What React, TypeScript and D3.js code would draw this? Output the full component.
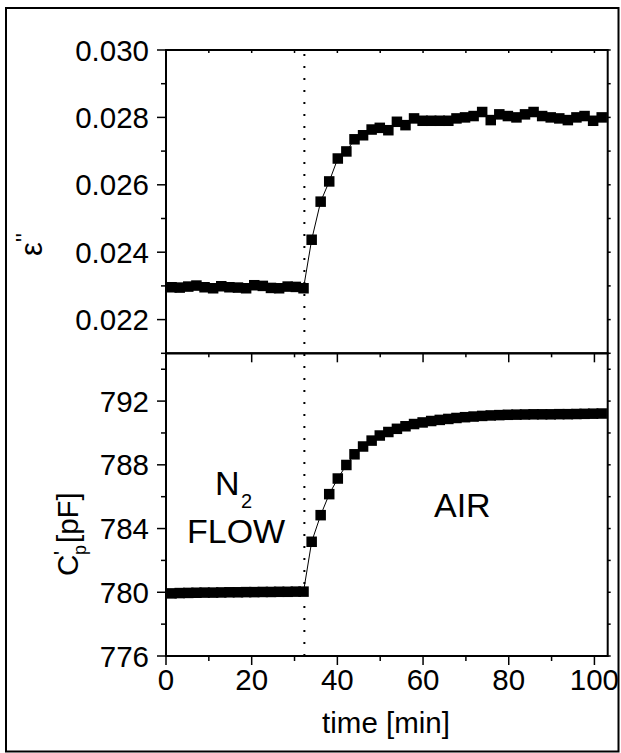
import React from "react";
import * as d3 from "d3";

const times = [1.3, 3.2, 5.2, 7.1, 9.0, 11.0, 12.9, 14.8, 16.8, 18.7, 20.6, 22.6, 24.5, 26.4, 28.4, 30.3, 32.1,
  34.0, 36.1, 38.1, 40.1, 42.1, 44.0, 46.0, 48.0, 49.9, 51.9, 53.9, 55.9, 57.9, 59.9, 61.9, 63.9, 65.9, 67.8,
  69.8, 71.8, 73.8, 75.8, 77.8, 79.8, 81.8, 83.8, 85.8, 87.8, 89.8, 91.8, 93.8, 95.8, 97.7, 99.7, 101.7];

const epsValues = [0.02296, 0.02295, 0.02298, 0.02301, 0.02296, 0.02293, 0.02299, 0.02296, 0.02295, 0.02293,
  0.02302, 0.02300, 0.02294, 0.02293, 0.02298, 0.02297, 0.02293,
  0.02437, 0.02550, 0.02610, 0.02678, 0.02699, 0.02735, 0.02747, 0.02764, 0.02769, 0.02762, 0.02787, 0.02777,
  0.02797, 0.02790, 0.02790, 0.02790, 0.02790, 0.02797, 0.02800, 0.02804, 0.02816, 0.02792, 0.02809, 0.02804,
  0.02800, 0.02809, 0.02816, 0.02804, 0.02800, 0.02797, 0.02792, 0.02800, 0.02804, 0.02790, 0.02800];

const capValues = [779.93, 779.95, 779.96, 779.97, 779.98, 779.98, 779.99, 780.0, 780.0, 780.01, 780.01, 780.02,
  780.02, 780.03, 780.03, 780.04, 780.04,
  783.17, 784.84, 786.16, 787.14, 787.99, 788.66, 789.15, 789.52, 789.84, 790.06, 790.26, 790.42, 790.56,
  790.66, 790.75, 790.82, 790.88, 790.94, 790.99, 791.03, 791.07, 791.10, 791.12, 791.14, 791.15, 791.16,
  791.17, 791.17, 791.17, 791.18, 791.18, 791.19, 791.20, 791.21, 791.22];

const xTicksMajor = [0, 20, 40, 60, 80, 100];
const xTicksMinor = [10, 30, 50, 70, 90];
const epsTicksMajor = [0.022, 0.024, 0.026, 0.028, 0.030];
const epsTicksMinor = [0.021, 0.023, 0.025, 0.027, 0.029];
const capTicksMajor = [776, 780, 784, 788, 792];
const capTicksMinor = [778, 782, 786, 790, 794];
const switchTime = 32.3;

const FONT = "'Liberation Sans', Arial, Helvetica, sans-serif";

export default function App() {
  const left = 166, right = 607.7, top = 50, mid = 353.3, bottom = 656;
  const x = d3.scaleLinear().domain([0, 103.1]).range([left, right]);
  const yTop = d3.scaleLinear().domain([0.021, 0.030]).range([mid, top]);
  const yBot = d3.scaleLinear().domain([776, 795]).range([bottom, mid]);

  const epsData = times.map((t, i) => [t, epsValues[i]] as [number, number]);
  const capData = times.map((t, i) => [t, capValues[i]] as [number, number]);
  const lineTop = d3.line<[number, number]>().x(d => x(d[0])).y(d => yTop(d[1]));
  const lineBot = d3.line<[number, number]>().x(d => x(d[0])).y(d => yBot(d[1]));

  const ms = 10.5;
  const sw = 2;
  const allTop = d3.range(21, 31).map(v => v / 1000);
  const allBot = d3.range(776, 796, 2);
  const fs = 29.5;

  return (
    <svg width={621} height={753} style={{ position: "absolute", left: 0, top: 0 }} fontFamily={FONT}>
      <rect x={0} y={0} width={621} height={753} fill="white" />
      <rect x={6} y={8} width={612.5} height={743.5} fill="none" stroke="black" strokeWidth={2} />

      {/* lines */}
      <path d={lineTop(epsData) || ""} fill="none" stroke="black" strokeWidth={1} />
      <path d={lineBot(capData) || ""} fill="none" stroke="black" strokeWidth={1} />

      {/* markers */}
      {epsData.map((d, i) => (
        <rect key={"e" + i} x={x(d[0]) - ms / 2} y={yTop(d[1]) - ms / 2} width={ms} height={ms} fill="black" />
      ))}
      {capData.map((d, i) => (
        <rect key={"c" + i} x={x(d[0]) - ms / 2} y={yBot(d[1]) - ms / 2} width={ms} height={ms} fill="black" />
      ))}

      {/* dotted line */}
      <line x1={x(switchTime)} x2={x(switchTime)} y1={top + 4} y2={bottom} stroke="black" strokeWidth={2}
        strokeDasharray="2 10" />

      {/* frames */}
      <rect x={left} y={top} width={right - left} height={mid - top} fill="none" stroke="black" strokeWidth={sw} />
      <rect x={left} y={mid} width={right - left} height={bottom - mid} fill="none" stroke="black" strokeWidth={sw} />

      {/* top axis ticks (top edge) */}
      {[...xTicksMajor, ...xTicksMinor].map(t => (
        <line key={"tt" + t} x1={x(t)} x2={x(t)} y1={top} y2={top + 3} stroke="black" strokeWidth={1.5} />
      ))}
      {/* divider ticks */}
      {xTicksMajor.map(t => (
        <line key={"dm" + t} x1={x(t)} x2={x(t)} y1={mid} y2={mid + 9} stroke="black" strokeWidth={1.5} />
      ))}
      {xTicksMinor.map(t => (
        <line key={"dn" + t} x1={x(t)} x2={x(t)} y1={mid} y2={mid + 4} stroke="black" strokeWidth={1.5} />
      ))}
      {/* bottom ticks */}
      {xTicksMajor.map(t => (
        <line key={"bm" + t} x1={x(t)} x2={x(t)} y1={bottom} y2={bottom + 9} stroke="black" strokeWidth={1.5} />
      ))}
      {xTicksMinor.map(t => (
        <line key={"bn" + t} x1={x(t)} x2={x(t)} y1={bottom} y2={bottom + 5} stroke="black" strokeWidth={1.5} />
      ))}
      {/* left ticks */}
      {epsTicksMajor.map(v => (
        <line key={"em" + v} x1={left - 9} x2={left} y1={yTop(v)} y2={yTop(v)} stroke="black" strokeWidth={1.5} />
      ))}
      {epsTicksMinor.map(v => (
        <line key={"en" + v} x1={left - 5} x2={left} y1={yTop(v)} y2={yTop(v)} stroke="black" strokeWidth={1.5} />
      ))}
      {capTicksMajor.map(v => (
        <line key={"cm" + v} x1={left - 9} x2={left} y1={yBot(v)} y2={yBot(v)} stroke="black" strokeWidth={1.5} />
      ))}
      {capTicksMinor.map(v => (
        <line key={"cn" + v} x1={left - 5} x2={left} y1={yBot(v)} y2={yBot(v)} stroke="black" strokeWidth={1.5} />
      ))}
      {/* right ticks */}
      {allTop.map(v => (
        <line key={"re" + v} x1={right} x2={right + 3} y1={yTop(v)} y2={yTop(v)} stroke="black" strokeWidth={1.5} />
      ))}
      {allBot.map(v => (
        <line key={"rc" + v} x1={right} x2={right + 3} y1={yBot(v)} y2={yBot(v)} stroke="black" strokeWidth={1.5} />
      ))}

      {/* tick labels */}
      {epsTicksMajor.map(v => (
        <text key={"el" + v} x={149} y={yTop(v) + 10.5} textAnchor="end" fontSize={fs}>{d3.format(".3f")(v)}</text>
      ))}
      {capTicksMajor.map(v => (
        <text key={"cl" + v} x={149} y={yBot(v) + 10.5} textAnchor="end" fontSize={fs}>{v}</text>
      ))}
      {xTicksMajor.map(t => (
        <text key={"xl" + t} x={x(t)} y={690} textAnchor="middle" fontSize={fs}>{t}</text>
      ))}

      {/* axis titles */}
      <text x={386} y={733} textAnchor="middle" fontSize={fs}>time [min]</text>
      <text transform="translate(42,256) rotate(-90)" fontSize={31}>
        ε<tspan dy={-9} fontSize={24}>''</tspan>
      </text>
      <g transform="translate(78,576) rotate(-90)" fontSize={fs}>
        <text x={0} y={0}>C</text>
        <text x={21} y={-9} fontSize={22}>'</text>
        <text x={21} y={8} fontSize={18}>p</text>
        <text x={33} y={0}>[pF]</text>
      </g>

      {/* annotations */}
      <text x={215} y={495} fontSize={34}>N</text>
      <text x={241} y={508} fontSize={20}>2</text>
      <text x={187} y={543} fontSize={34}>FLOW</text>
      <text x={434} y={517} fontSize={34}>AIR</text>
    </svg>
  );
}
